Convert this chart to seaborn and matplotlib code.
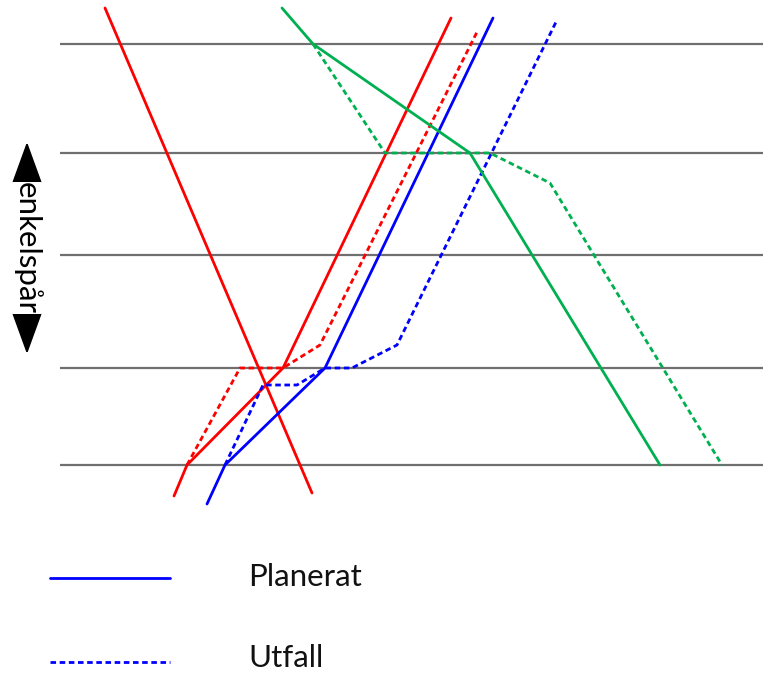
import matplotlib
matplotlib.use("Agg")
import matplotlib.pyplot as plt
import seaborn as sns
import pandas as pd

sns.set_theme(style="white")
plt.rcParams['font.family'] = ['Lato', 'DejaVu Sans']

# Station positions (distance axis, downwards) and station line extent (time)
station_pos = [44, 153, 255, 368, 465]
station_t = [60, 763]

# Train paths: time (x) and position (y)
red_down_t = [105, 312]
red_down_p = [8, 493]

red_plan_t = [174, 187, 283, 451]
red_plan_p = [496, 465, 368, 18]
red_utf_t = [187, 240, 283, 320, 478]
red_utf_p = [465, 368, 368, 345, 30]

blue_plan_t = [207, 225, 325, 493]
blue_plan_p = [504, 465, 368, 18]
blue_utf_t = [225, 263, 297, 325, 352, 397, 556]
blue_utf_p = [465, 385, 385, 368, 368, 345, 22]

green_plan_t = [282, 313, 470, 660]
green_plan_p = [8, 44, 153, 465]
green_utf_t = [313, 385, 490, 550, 722]
green_utf_p = [44, 153, 153, 183, 465]

legend_labels = ["Planerat", "Utfall"]
side_label = "enkelspår"

RED, BLUE, GREEN = "#FF0000", "#0000FF", "#00B050"
DASH = (0, (2.0, 1.3))

fig = plt.figure(figsize=(7.69, 6.74), dpi=100)
ax = fig.add_axes([0, 0, 1, 1])

for p in station_pos:
    ax.hlines(p, station_t[0], station_t[1], color="#6f6f6f", lw=1.6, zorder=1)

paths = [
    (red_down_t, red_down_p, RED, "-"),
    (red_plan_t, red_plan_p, RED, "-"),
    (red_utf_t, red_utf_p, RED, DASH),
    (blue_plan_t, blue_plan_p, BLUE, "-"),
    (blue_utf_t, blue_utf_p, BLUE, DASH),
    (green_plan_t, green_plan_p, GREEN, "-"),
    (green_utf_t, green_utf_p, GREEN, DASH),
]
for t, p, c, ls in paths:
    df = pd.DataFrame({"t": t, "p": p})
    sns.lineplot(data=df, x="t", y="p", sort=False, estimator=None, color=c,
                 lw=2.0, linestyle=ls, ax=ax, zorder=3)

# enkelspår label with double arrow
ax.annotate("", xy=(27, 142), xytext=(27, 354),
            arrowprops=dict(arrowstyle="<|-|>,head_length=2.2,head_width=0.8",
                            color="black", lw=1.5, shrinkA=0, shrinkB=0))
ax.text(27, 248, side_label, rotation=-90, ha="center", va="center",
        fontsize=22.5, color="black",
        bbox=dict(boxstyle="square,pad=0.0", fc="white", ec="none"), zorder=5)

# Legend
sns.lineplot(x=[50, 170], y=[578, 578], color=BLUE, lw=2.0, ax=ax)
sns.lineplot(x=[50, 170], y=[662, 662], color=BLUE, lw=2.0, linestyle=DASH, ax=ax)
ax.text(248, 577, legend_labels[0], ha="left", va="center", fontsize=22.5, color="#111111")
ax.text(248, 658, legend_labels[1], ha="left", va="center", fontsize=22.5, color="#111111")

ax.set_xlim(0, 769)
ax.set_ylim(674, 0)
ax.axis("off")

fig.savefig("out.png", dpi=100)
